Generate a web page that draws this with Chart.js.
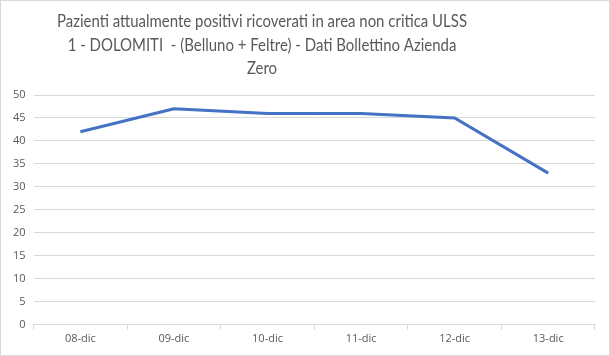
<!DOCTYPE html>
<html>
<head>
<meta charset="utf-8">
<script src="https://cdn.jsdelivr.net/npm/chart.js@4"></script>
<style>
html,body{margin:0;padding:0;background:#fff;}
#wrap{width:610px;height:356px;box-sizing:border-box;border:1px solid #d9d9d9;position:relative;}
canvas{display:block;}
</style>
</head>
<body>
<div id="wrap"><canvas id="c" width="608" height="354"></canvas></div>
<script>
const categories = ["08-dic","09-dic","10-dic","11-dic","12-dic","13-dic"];
const values = [42, 47, 46, 46, 45, 33];
const titleLines = ["Pazienti attualmente positivi ricoverati in area non critica ULSS","1 - DOLOMITI  - (Belluno + Feltre) - Dati Bollettino Azienda","Zero"];
const yTicks = {min:0, max:50, step:5};

const titlePlugin = {
  id: 'offsetTitle',
  afterDraw(chart) {
    const ctx = chart.ctx;
    ctx.save();
    ctx.fillStyle = '#595959';
    ctx.font = '17px Lato';
    ctx.textAlign = 'center';
    ctx.textBaseline = 'middle';
    const cx = 261, sx = 0.88;
    ctx.translate(cx, 0);
    ctx.scale(sx, 1);
    const ys = [21, 45, 68];
    titleLines.forEach((t, i) => ctx.fillText(t, 0, ys[i]));
    ctx.restore();
  }
};

new Chart(document.getElementById('c'), {
  type: 'line',
  data: {
    labels: categories,
    datasets: [{
      data: values,
      borderColor: '#4472c4',
      borderWidth: 3,
      pointRadius: 0,
      tension: 0,
      fill: false
    }]
  },
  options: {
    responsive: false,
    animation: false,
    layout: {padding: {left: 4, right: 14, top: 94, bottom: 8}},
    plugins: {
      legend: {display: false},
      tooltip: {enabled: false},
      title: {display: false}
    },
    scales: {
      x: {
        offset: true,
        grid: {offset: true, drawOnChartArea: false, drawTicks: true, tickLength: 5, color: '#d9d9d9'},
        border: {display: true, color: '#d9d9d9'},
        ticks: {color: '#595959', font: {family: 'Open Sans', size: 11}, padding: 2}
      },
      y: {
        min: yTicks.min, max: yTicks.max,
        ticks: {stepSize: yTicks.step, color: '#595959', font: {family: 'Open Sans', size: 11}, padding: 8},
        grid: {color: '#d9d9d9', drawTicks: false},
        border: {display: false}
      }
    }
  },
  plugins: [titlePlugin]
});
</script>
</body>
</html>
